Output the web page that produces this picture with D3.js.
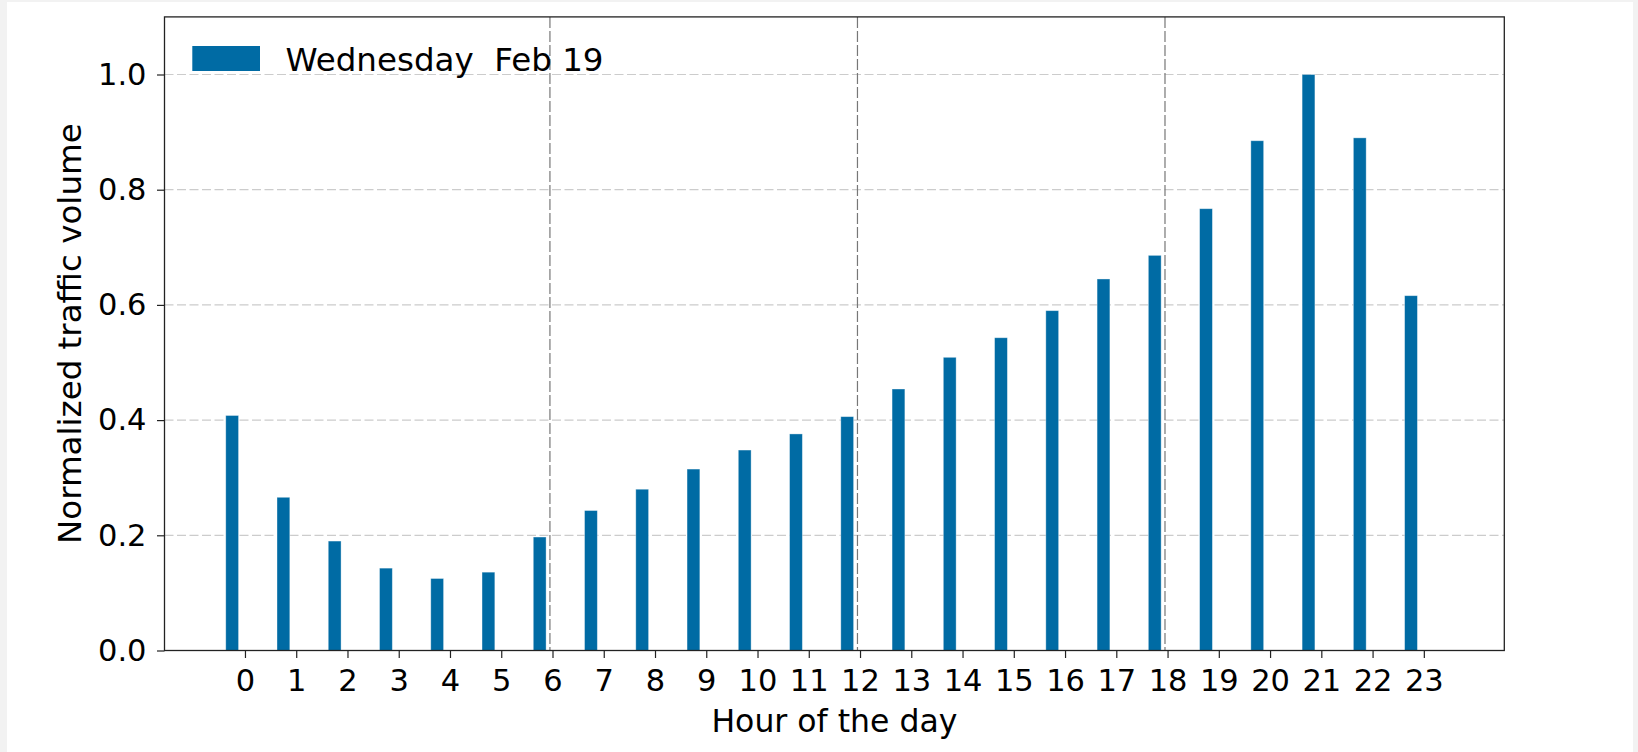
<!DOCTYPE html>
<html>
<head>
<meta charset="utf-8">
<script src="https://cdn.jsdelivr.net/npm/d3@7"></script>
<style>
  html, body { margin: 0; padding: 0; background: #f2f2f2; }
  svg { display: block; }
  text { font-family: "DejaVu Sans", sans-serif; fill: #000; }
</style>
</head>
<body>
<svg id="chart" width="1638" height="752"></svg>
<script>
// ---- data ----
const hours = d3.range(0, 24);
const hourLabels = hours.map(String);
const seriesName = "Wednesday  Feb 19";
const values = [0.408, 0.266, 0.190, 0.143, 0.125, 0.136, 0.197, 0.243, 0.280, 0.315,
                0.348, 0.376, 0.406, 0.454, 0.509, 0.543, 0.590, 0.645, 0.686, 0.767,
                0.885, 1.000, 0.890, 0.616];
const yTicks = [0.0, 0.2, 0.4, 0.6, 0.8, 1.0];
const dividers = [5.95, 11.95, 17.95];
const barOffset = -0.25;
const barWidth = 0.25;

// ---- layout ----
const svg = d3.select("#chart");
const W = 1638, H = 752;
const plot = { left: 164.5, right: 1504.3, top: 16.9, bottom: 650.5 };

svg.append("rect").attr("x", 7).attr("y", 2).attr("width", 1626).attr("height", H - 2).attr("fill", "#ffffff");

const x = d3.scaleLinear().domain([-1.57, 24.57]).range([plot.left, plot.right]);
const y = d3.scaleLinear().domain([0, 1.1]).range([plot.bottom, plot.top]);

const g = svg.append("g");

// horizontal grid
g.append("g").selectAll("line").data(yTicks.filter(d => d > 0)).join("line")
  .attr("x1", plot.left).attr("x2", plot.right)
  .attr("y1", d => y(d)).attr("y2", d => y(d))
  .attr("stroke", "#cccccc").attr("stroke-width", 1.2).attr("stroke-dasharray", "9,3.5");

// bars
g.append("g").selectAll("rect").data(hours).join("rect")
  .attr("x", d => x(d + barOffset - barWidth / 2))
  .attr("width", x(barWidth) - x(0))
  .attr("y", (d, i) => y(values[i]))
  .attr("height", (d, i) => y(0) - y(values[i]))
  .attr("fill", "#006ba4")
  .attr("stroke", "rgba(255,255,255,0.45)").attr("stroke-width", 0.8);

// vertical dividers
g.append("g").selectAll("line").data(dividers).join("line")
  .attr("x1", d => x(d)).attr("x2", d => x(d))
  .attr("y1", plot.top).attr("y2", plot.bottom)
  .attr("stroke", "#777777").attr("stroke-width", 1.2).attr("stroke-dasharray", "11,3");

// axes
const xAxis = d3.axisBottom(x).tickValues(hours).tickFormat((d, i) => hourLabels[i])
  .tickSize(7.5).tickPadding(11).tickSizeOuter(0);
const gx = svg.append("g").attr("transform", `translate(0,${plot.bottom})`).call(xAxis);
gx.select(".domain").remove();
gx.selectAll(".tick line").attr("stroke", "#222").attr("stroke-width", 1.2);
gx.selectAll(".tick text").attr("font-size", "30.5px").attr("font-family", "DejaVu Sans").attr("fill", "#000");

const yAxis = d3.axisLeft(y).tickValues(yTicks).tickFormat(d3.format(".1f"))
  .tickSize(7.5).tickPadding(10.5).tickSizeOuter(0);
const gy = svg.append("g").attr("transform", `translate(${plot.left},0)`).call(yAxis);
gy.select(".domain").remove();
gy.selectAll(".tick line").attr("stroke", "#222").attr("stroke-width", 1.2);
gy.selectAll(".tick text").attr("font-size", "30.5px").attr("font-family", "DejaVu Sans").attr("fill", "#000");

// frame
svg.append("rect")
  .attr("x", plot.left).attr("y", plot.top)
  .attr("width", plot.right - plot.left).attr("height", plot.bottom - plot.top)
  .attr("fill", "none").attr("stroke", "#222").attr("stroke-width", 1.3);

// axis labels
svg.append("text")
  .attr("x", (plot.left + plot.right) / 2).attr("y", 731.5)
  .attr("text-anchor", "middle").attr("font-size", "31.5px")
  .text("Hour of the day");

svg.append("text")
  .attr("transform", `translate(80.5,${(plot.top + plot.bottom) / 2}) rotate(-90)`)
  .attr("text-anchor", "middle").attr("font-size", "32.5px")
  .text("Normalized traffic volume");

// legend
const lg = svg.append("g");
lg.append("rect").attr("x", 192.3).attr("y", 46).attr("width", 67.7).attr("height", 25)
  .attr("fill", "#006ba4");
lg.append("text").attr("x", 285.5).attr("y", 70.8).attr("font-size", "32.5px")
  .attr("xml:space", "preserve").style("white-space", "pre")
  .text(seriesName);
</script>
</body>
</html>
